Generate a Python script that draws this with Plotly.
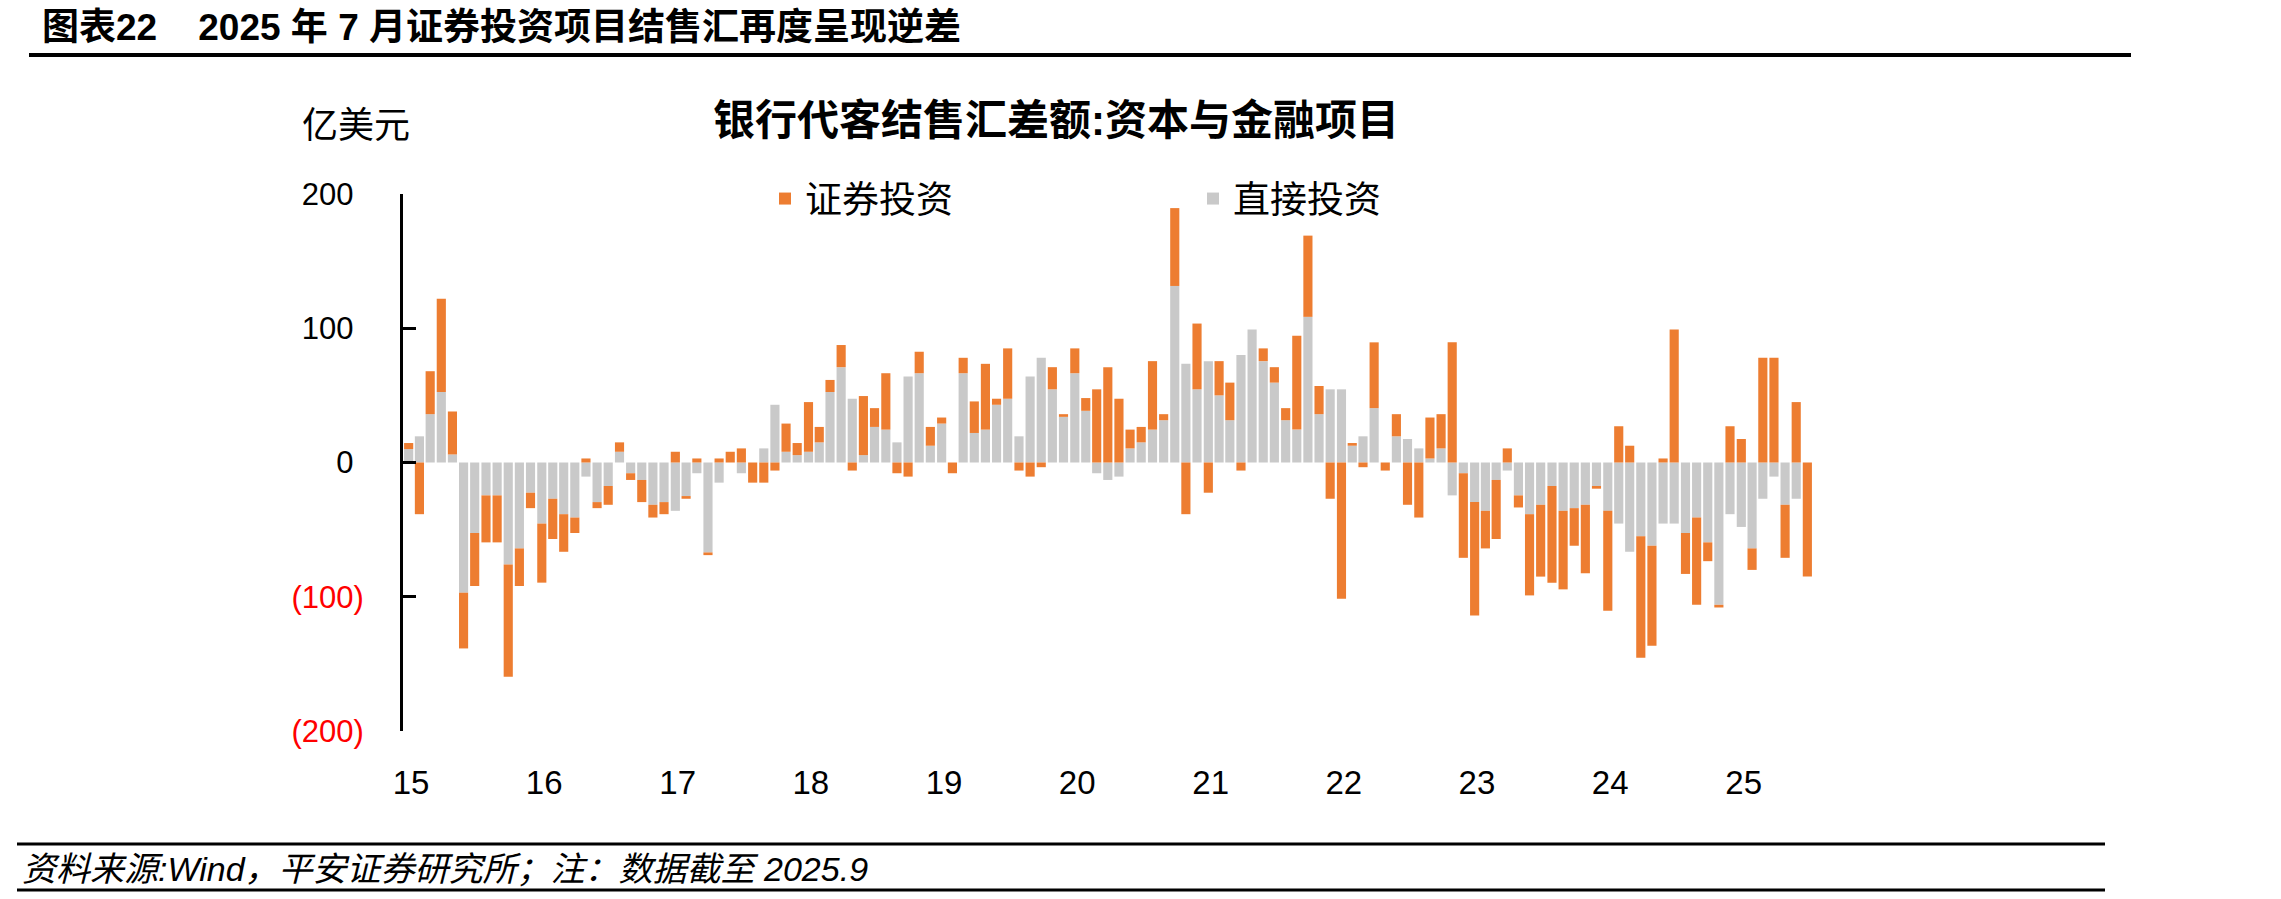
import plotly.graph_objects as go
import pandas as pd

# ---- data (亿美元), 2015-01 .. 2025-07 ----
months = pd.date_range("2015-01-01", periods=127, freq="MS").strftime("%Y-%m-%d").tolist()

direct_inv = [  # 直接投资
    10, 19.5, 36, 52.5, 6, -97, -52.5, -24.5, -24.5, -76, -64, -22.5,
    -45.5, -27, -38.5, -41, -10.5, -29.5, -17.5, 8, -8, -13, -31.5, -29.5,
    -36, -25, -8, -67, -15, 0, -8, 0, 10.5, 43, 8, 5.5,
    8, 15, 52.5, 71, 47.5, 5.5, 26.5, 24.5, 15, 64, 66.5, 12.5,
    29, 0, 66.5, 22, 24.5, 43, 47.5, 19.5, 64, 78, 54.5, 34,
    66.5, 38.5, -8, -13, -10.5, 10.5, 15, 24.5, 31.5, 131.5, 73.5, 54.5,
    75.5, 50, 31.5, 80, 99, 75.5, 59.5, 31.5, 24.5, 108.5, 36, 54.5,
    54.5, 12.5, 19.5, 40.5, 0, 19.5, 17.5, 10.5, 3, 10.5, -24.5, -8,
    -29.5, -36, -13, -6, -24.5, -38.5, -31.5, -17.5, -36, -34, -31.5, -17.5,
    -36, -45.5, -66.5, -55, -62, -45.5, -45.5, -52.5, -41, -59.5, -106, -38.5,
    -48, -64, -27, -10.5, -31.5, -27, 0,
]
securities_inv = [  # 证券投资
    4.5, -38.5, 32, 69.5, 32, -41.5, -39.5, -35, -35, -83.5, -28, -11.5,
    -44, -30, -28, -11.5, 3, -4.5, -14, 7, -5, -16.5, -9.5, -9,
    8, -2, 3, -2, 3, 8, 10.5, -15, -15, -6, 21, 9,
    37, 11.5, 9, 16.5, -6, 44, 14, 42, -8, -10.5, 16, 14,
    4.5, -8, 11.5, 23.5, 49, 4.5, 37.5, -6, -10.5, -3.5, 16.5, 2,
    18.5, 9.5, 54.5, 71, 47.5, 14, 11.5, 51, 4.5, 58, -38.5, 49,
    -22.5, 25.5, 28, -6, 0, 9.5, 11.5, 9, 70, 60.5, 21, -27,
    -101.5, 2, -3.5, 49, -6, 16.5, -31.5, -41, 30.5, 25.5, 89.5, -63,
    -84.5, -28, -44, 10.5, -9, -60.5, -53.5, -72, -58.5, -28, -51, -2,
    -74.5, 27, 12.5, -90.5, -74.5, 3, 99, -30.5, -65, -14, -2, 27,
    17.5, -16, 78, 78, -39.5, 45, -85,
]

year_ticks = [f"{y}-01-01" for y in range(2015, 2026)]
year_labels = [f"{y % 100:02d}" for y in range(2015, 2026)]

y_ticks = [200, 100, 0, -100, -200]
y_labels = ["200", "100", "0", "(100)", "(200)"]

ORANGE = "#ED7D31"
GRAY = "#C9C9C9"
FONT = "Liberation Sans, Arial, Noto Sans CJK SC, sans-serif"

W, H = 2281, 899
PL, PR, PT, PB = 403, 1813, 194, 731


def fx(px):
    return (px - PL) / (PR - PL)


def fy(py):
    return (PB - py) / (PB - PT)


fig = go.Figure()
fig.add_trace(go.Bar(
    x=months, y=direct_inv, name="直接投资", marker_color=GRAY,
    marker_line_width=0, xperiod="M1", xperiodalignment="middle", legendrank=2,
))
fig.add_trace(go.Bar(
    x=months, y=securities_inv, name="证券投资", marker_color=ORANGE,
    marker_line_width=0, xperiod="M1", xperiodalignment="middle", legendrank=1,
))

ytext = []
for v, t in zip(y_ticks, y_labels):
    if v < 0:
        ytext.append(f'<span style="color:#FF0000">{t}</span>')
    else:
        ytext.append(f'{t}<span style="color:#FFFFFF">)</span>')

xrange = ["2015-01-01", "2025-08-01"]

fig.update_layout(
    width=W, height=H,
    margin=dict(l=PL, r=W - PR, t=PT, b=H - PB, pad=0),
    paper_bgcolor="white", plot_bgcolor="white",
    barmode="relative", bargap=0.15,
    font=dict(family=FONT, size=31, color="black"),
    showlegend=True,
    legend=dict(
        orientation="h", x=fx(765), xanchor="left", y=fy(199), yanchor="middle",
        font=dict(size=37, family=FONT), entrywidth=383, entrywidthmode="pixels",
        bgcolor="rgba(0,0,0,0)", borderwidth=0,
    ),
    xaxis=dict(
        type="date", range=xrange, tickvals=year_ticks, ticktext=year_labels,
        showline=False, ticks="", showgrid=False, zeroline=False,
        tickfont=dict(size=33, family=FONT), ticklabelshift=8, ticklabelstandoff=29,
    ),
    xaxis2=dict(
        type="date", range=xrange, overlaying="x", anchor="free", position=fy(463.5),
        side="bottom", tickvals=year_ticks, showticklabels=False,
        ticks="inside", ticklen=12, tickwidth=3, tickcolor="black",
        showline=True, linewidth=3, linecolor="black", showgrid=False, zeroline=False,
    ),
    yaxis=dict(
        range=[-200, 200], tickvals=y_ticks, ticktext=ytext,
        showline=True, linewidth=3, linecolor="black",
        ticks="inside", ticklen=13, tickwidth=3, tickcolor="black",
        showgrid=False, zeroline=False,
        tickfont=dict(size=31, family=FONT), ticklabelstandoff=30,
    ),
)

annotations = [
    dict(text="<b>图表22    2025 年 7 月证券投资项目结售汇再度呈现逆差</b>",
         x=fx(40), y=fy(27), xanchor="left", yanchor="middle",
         font=dict(size=37, family=FONT)),
    dict(text="<b>银行代客结售汇差额:资本与金融项目</b>",
         x=fx(1056), y=fy(121), xanchor="center", yanchor="middle",
         font=dict(size=42, family=FONT)),
    dict(text="亿美元", x=fx(300), y=fy(126), xanchor="left", yanchor="middle",
         font=dict(size=36, family=FONT)),
    dict(text="<i>资料来源:Wind，平安证券研究所；注：数据截至 2025.9</i>",
         x=fx(20), y=fy(869), xanchor="left", yanchor="middle",
         font=dict(size=34, family=FONT)),
]
for a in annotations:
    a.update(xref="paper", yref="paper", showarrow=False)
fig.update_layout(annotations=annotations)

lines = [(29, 2131, 55, 4), (17, 2105, 844, 3), (17, 2105, 890, 3)]
for x0, x1, yy, w in lines:
    fig.add_shape(type="line", xref="paper", yref="paper",
                  x0=fx(x0), x1=fx(x1), y0=fy(yy), y1=fy(yy),
                  line=dict(color="black", width=w))

fig.write_html("out.html")
